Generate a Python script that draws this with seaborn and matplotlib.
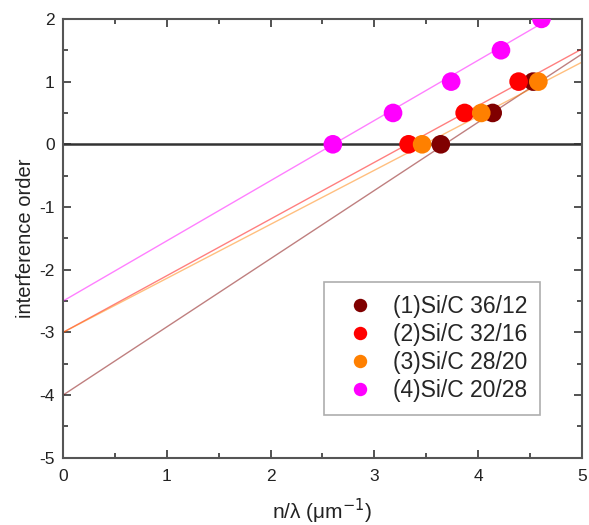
import matplotlib
matplotlib.use("Agg")
import matplotlib.pyplot as plt
import seaborn as sns
import pandas as pd
from matplotlib.ticker import MultipleLocator

sns.set_theme(style="ticks")
plt.rcParams['font.family'] = ['Liberation Sans', 'DejaVu Sans']
plt.rcParams['axes.unicode_minus'] = False

labels = ["(1)Si/C 36/12", "(2)Si/C 32/16", "(3)Si/C 28/20", "(4)Si/C 20/28"]
colors = ["#800000", "#ff0000", "#ff8000", "#ff00ff"]

# measured points (n/lambda, interference order)
x1 = [3.64, 4.14, 4.53]; y1 = [0, 0.5, 1]
x2 = [3.33, 3.87, 4.39]; y2 = [0, 0.5, 1]
x3 = [3.46, 4.03, 4.58]; y3 = [0, 0.5, 1]
x4 = [2.60, 3.18, 3.74, 4.22, 4.61]; y4 = [0, 0.5, 1, 1.5, 2]

# fit lines: values at x = 0 and x = 5
line_x = [0, 5]
line1 = [-4.0, 1.44]
line2 = [-3.0, 1.52]
line3 = [-3.0, 1.31]
line4 = [-2.5, 2.30]

pts = pd.DataFrame({
    "x": x1 + x2 + x3 + x4,
    "y": y1 + y2 + y3 + y4,
    "s": [labels[0]] * len(x1) + [labels[1]] * len(x2) + [labels[2]] * len(x3) + [labels[3]] * len(x4),
})
lines = pd.DataFrame({
    "x": line_x * 4,
    "y": line1 + line2 + line3 + line4,
    "s": [l for l in labels for _ in line_x],
})
pal = dict(zip(labels, colors))

fig = plt.figure(figsize=(5.89, 5.25), dpi=100)
ax = fig.add_axes([0.107, 0.128, 0.881, 0.836])

ax.axhline(0, color="#333333", lw=1.8, zorder=1)
sns.lineplot(data=lines, x="x", y="y", hue="s", palette=pal, legend=False,
             lw=1.0, alpha=0.5, ax=ax, zorder=2)
sns.scatterplot(data=pts, x="x", y="y", hue="s", palette=pal, s=180,
                edgecolor="none", ax=ax, zorder=3)

ax.set_xlim(0, 5)
ax.set_ylim(-5, 2)
ax.xaxis.set_major_locator(MultipleLocator(1))
ax.xaxis.set_minor_locator(MultipleLocator(0.5))
ax.yaxis.set_major_locator(MultipleLocator(1))
ax.yaxis.set_minor_locator(MultipleLocator(0.5))
ax.tick_params(which="both", direction="in", top=True, right=True,
               color="#444444", width=1.3)
ax.tick_params(which="major", length=6, labelsize=12.5, labelcolor="#222222")
ax.tick_params(axis="x", which="major", pad=8)
ax.tick_params(axis="y", which="major", pad=6)
ax.tick_params(which="minor", length=3.5)
for sp in ax.spines.values():
    sp.set_color("#555555")
    sp.set_linewidth(1.5)

ax.set_xlabel("n/λ (μm$^{-1}$)", fontsize=15, color="#222222", labelpad=9)
ax.set_ylabel("interference order", fontsize=14.5, color="#222222", labelpad=3)

leg = ax.legend(loc="lower right", bbox_to_anchor=(0.919, 0.098), borderaxespad=0,
                fontsize=16.5, frameon=True, fancybox=False, edgecolor="#999999",
                handletextpad=0.45, borderpad=0.55, labelspacing=0.22, markerscale=0.72)
leg.get_frame().set_linewidth(1.2)

fig.savefig("out.png", dpi=100)
